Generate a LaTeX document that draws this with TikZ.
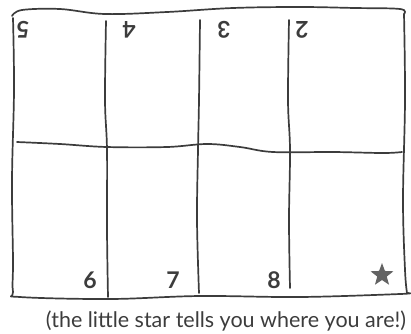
\documentclass[tikz,border=0pt]{standalone}
\usepackage{fontspec}
\setmainfont{Lato}
\usetikzlibrary{shapes.geometric}
\definecolor{ink}{HTML}{3C3C3C}
\tikzset{
  pen/.style={draw=ink, line width=1.7pt, line cap=round, line join=round},
  digit/.style={text=ink, font=\fontsize{23}{23}\selectfont\bfseries, inner sep=0pt},
  updigit/.style={digit, rotate=180},
}
\begin{document}
\begin{tikzpicture}[x=1pt,y=-1pt]
\useasboundingbox (0,0) rectangle (411,333);
% outer frame
\draw[pen] plot[smooth, tension=0.6] coordinates {(12,16) (22,10) (60,9) (105,14) (167,12) (233,8) (300,7) (355,8) (400,9) (404,14)};
\draw[pen] plot[smooth, tension=0.6] coordinates {(13,18) (14,90) (12,180) (13,260) (13,292) (20,297) (110,299) (200,296) (300,297) (400,294) (407,293)};
\draw[pen] plot[smooth, tension=0.6] coordinates {(404,14) (405,100) (403,200) (405,270) (407,293)};
% vertical dividers
\draw[pen] plot[smooth, tension=0.6] coordinates {(106,21) (105,100) (107,150) (107,230) (108,297)};
\draw[pen] plot[smooth, tension=0.6] coordinates {(200,20) (199,100) (198,150) (197,220) (199,293)};
\draw[pen] plot[smooth, tension=0.6] coordinates {(289,20) (288,100) (290,150) (289,220) (290,288)};
% middle line
\draw[pen] plot[smooth, tension=0.6] coordinates {(17,142) (60,144) (107,147) (167,147) (207,144) (240,147) (273,152) (333,152) (383,153) (402,152)};
% numbers
\node[updigit] (n5) at (23,30) {5};
\node[updigit] (n4) at (129,30) {4};
\node[updigit] (n3) at (224,30) {3};
\node[updigit] (n2) at (302,30) {2};
\node[digit] (n6) at (90,280) {6};
\node[digit] (n7) at (173,280) {7};
\node[digit] (n8) at (274,280) {8};
\node[star, star points=5, star point ratio=2.4, fill=ink!80, draw=none, minimum size=24pt, inner sep=0pt] (st) at (382,275) {};
\node[text=ink, font=\fontsize{21.5}{21.5}\selectfont, inner sep=0pt] (cap) at (226,321) {(the little star tells you where you are!)};
\end{tikzpicture}
\end{document}
